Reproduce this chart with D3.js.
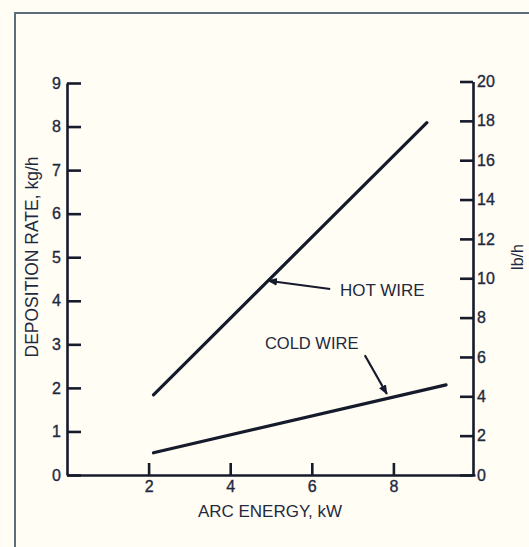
<!DOCTYPE html>
<html>
<head>
<meta charset="utf-8">
<script src="https://d3js.org/d3.v7.min.js"></script>
<style>
  html, body { margin: 0; padding: 0; background: #fffdf4; }
  svg { display: block; }
  text { font-family: "Liberation Sans", Arial, sans-serif; fill: #1f2a40; }
</style>
</head>
<body>
<div id="chart"></div>
<script>
// Deposition rate vs arc energy (kg/h on left, lb/h on right)
const xTicks = [2, 4, 6, 8];
const kgTicks = [0, 1, 2, 3, 4, 5, 6, 7, 8, 9];
const lbTicks = [0, 2, 4, 6, 8, 10, 12, 14, 16, 18, 20];

const seriesNames = ["HOT WIRE", "COLD WIRE"];
const hotWire = [[2.12, 1.84], [8.82, 8.09]];
const coldWire = [[2.12, 0.51], [9.29, 2.07]];

// label anchor, arrow start, arrow tip (data units)
const labelPos = [[6.69, 4.25], [4.85, 3.03]];
const arrowFrom = [[6.45, 4.27], [7.30, 2.75]];
const arrowTo = [[4.93, 4.46], [7.84, 1.86]];

const width = 529, height = 547;
const ink = "#161b2c";
const textInk = "#1f2a40";

const svg = d3.select("#chart").append("svg")
  .attr("width", width)
  .attr("height", height);

svg.append("rect").attr("width", width).attr("height", height).attr("fill", "#fffdf4");

// frame
svg.append("path")
  .attr("d", "M15,547 V13 H529")
  .attr("fill", "none")
  .attr("stroke", "#5d6d7c")
  .attr("stroke-width", 2);

const x = d3.scaleLinear().domain([0, 10]).range([67, 475]);
const yKg = d3.scaleLinear().domain([0, 9]).range([475, 83]);
const yLb = d3.scaleLinear().domain([0, 20]).range([475, 81.5]);

const defs = svg.append("defs");
defs.append("marker")
  .attr("id", "arrow")
  .attr("viewBox", "0 0 10 10")
  .attr("refX", 9).attr("refY", 5)
  .attr("markerWidth", 4.5).attr("markerHeight", 4.5)
  .attr("markerUnits", "strokeWidth")
  .attr("orient", "auto")
  .append("path")
  .attr("d", "M0,1 L10,5 L0,9 Z")
  .attr("fill", ink);

function styleAxis(g) {
  g.attr("font-size", 16).attr("font-family", null);
  g.select(".domain").attr("stroke", ink).attr("stroke-width", 2.6);
  g.selectAll(".tick line").attr("stroke", ink).attr("stroke-width", 2.6);
  g.selectAll(".tick text")
    .attr("fill", textInk)
    .attr("font-size", 16)
    .style("font-size", "16px")
    .style("stroke", textInk)
    .style("stroke-width", 0.35);
}

svg.append("g")
  .attr("transform", "translate(67,0)")
  .call(d3.axisLeft(yKg).tickValues(kgTicks).tickSizeInner(-14).tickSizeOuter(0).tickPadding(6))
  .call(styleAxis);

svg.append("g")
  .attr("transform", "translate(473,0)")
  .call(d3.axisRight(yLb).tickValues(lbTicks).tickSizeInner(-13).tickSizeOuter(0).tickPadding(4))
  .call(styleAxis);

svg.append("g")
  .attr("transform", "translate(0,475)")
  .call(d3.axisBottom(x).tickValues(xTicks).tickSizeInner(-12).tickSizeOuter(0).tickPadding(6))
  .call(styleAxis);

// axis titles
svg.append("text")
  .attr("x", 270).attr("y", 517)
  .attr("text-anchor", "middle")
  .style("font-size", "17px")
  .text("ARC ENERGY, kW");

svg.append("text")
  .attr("transform", "translate(38,257) rotate(-90)")
  .attr("text-anchor", "middle")
  .style("font-size", "17.5px")
  .text("DEPOSITION RATE, kg/h");

svg.append("text")
  .attr("transform", "translate(523,257) rotate(-90)")
  .attr("text-anchor", "middle")
  .style("font-size", "16px")
  .text("lb/h");

// lines
const line = d3.line().x(d => x(d[0])).y(d => yKg(d[1]));
[hotWire, coldWire].forEach(s => {
  svg.append("path")
    .attr("d", line(s))
    .attr("fill", "none")
    .attr("stroke", ink)
    .attr("stroke-width", 3.2)
    .attr("stroke-linecap", "round");
});

// annotations
const labelSize = ["17px", "16.5px"];
seriesNames.forEach((name, i) => {
  svg.append("line")
    .attr("x1", x(arrowFrom[i][0])).attr("y1", yKg(arrowFrom[i][1]))
    .attr("x2", x(arrowTo[i][0])).attr("y2", yKg(arrowTo[i][1]))
    .attr("stroke", ink)
    .attr("stroke-width", 2.2)
    .attr("marker-end", "url(#arrow)");
  svg.append("text")
    .attr("x", x(labelPos[i][0])).attr("y", yKg(labelPos[i][1]))
    .attr("dy", "0.36em")
    .style("font-size", labelSize[i])
    .text(name);
});
</script>
</body>
</html>
